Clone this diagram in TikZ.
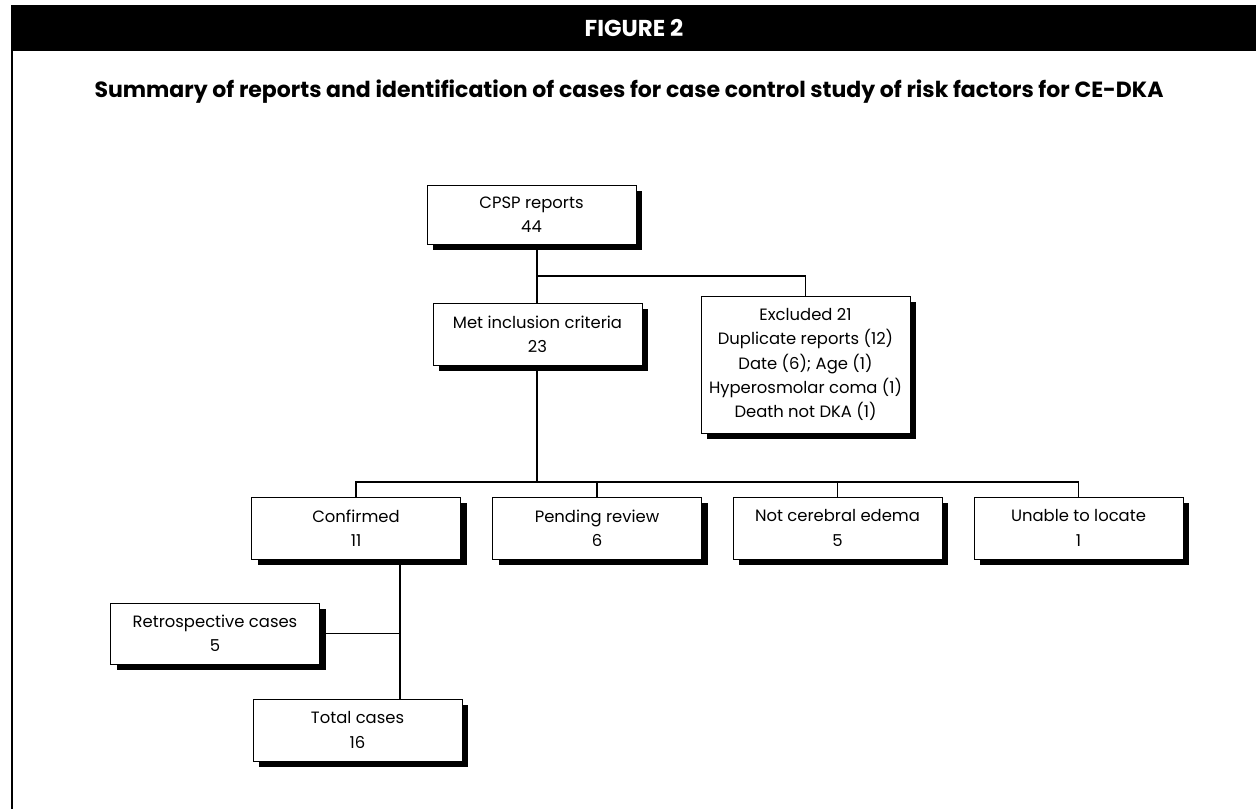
\documentclass[tikz,border=0pt]{standalone}
\usepackage{fontspec}
\setmainfont{Poppins}
\usetikzlibrary{shadows}

\begin{document}
\begin{tikzpicture}[x=0.5pt,y=-0.5pt,
  casebox/.style={draw, line width=0.5pt, fill=white, align=center,
    inner sep=0pt, minimum width=104.5pt, minimum height=31pt,
    font=\fontsize{8.2}{12.1}\selectfont,
    drop shadow={shadow xshift=3pt, shadow yshift=-2.8pt, fill=black, opacity=1}},
  link/.style={line width=0.7pt}]

\useasboundingbox (0,0) rectangle (1256,809);

\fill (11,5) rectangle (1256,51);
\draw[line width=1pt] (12,51) to (12,809);

\node[text=white, font=\bfseries\fontsize{11.5}{13}\selectfont] (figtitle) at (634,28) {FIGURE 2};
\node[font=\bfseries\fontsize{11}{13}\selectfont] (subtitle) at (629,92)
  {Summary of reports and identification of cases for case control study of risk factors for CE-DKA};

\coordinate(cpsppos) at (531.5,214.5);
\coordinate(metpos) at (537.5,334);
\coordinate(exclpos) at (805.5,364.5);

\coordinate(confpos) at (356,528);
\coordinate(pendpos) at (597,528);
\coordinate(notcepos) at (837.5,528);
\coordinate(unablepos) at (1078.5,528);

\coordinate(retropos) at (215,633.5);
\coordinate(totalpos) at (357.5,730);

\coordinate(fork) at (537,276);
\coordinate(bar) at (537,482);
\coordinate(join) at (400,632);

\node[casebox, minimum height=29.5pt] (cpsp) at (cpsppos) {CPSP reports\\44};
\node[casebox] (met) at (metpos) {Met inclusion criteria\\23};
\node[casebox, minimum height=68.5pt] (excl) at (exclpos)
  {Excluded 21\\Duplicate reports (12)\\Date (6); Age (1)\\Hyperosmolar coma (1)\\Death not DKA (1)};

\node[casebox] (conf) at (confpos) {Confirmed\\11};
\node[casebox] (pend) at (pendpos) {Pending review\\6};
\node[casebox] (notce) at (notcepos) {Not cerebral edema\\5};
\node[casebox] (unable) at (unablepos) {Unable to locate\\1};

\node[casebox, minimum height=30.5pt] (retro) at (retropos) {Retrospective cases\\5};
\node[casebox] (total) at (totalpos) {Total cases\\16};

\draw[link] (met.north -| fork) to (cpsp.south -| fork);
\draw[link] (fork) to (fork -| excl.north) to (excl.north);

\draw[link] (met.south -| bar) to (bar);
\draw[link] (conf.north) to (conf.north |- bar) to (unable.north |- bar) to (unable.north);
\draw[link] (pend.north) to (pend.north |- bar);
\draw[link] (notce.north) to (notce.north |- bar);

\draw[link] (conf.south -| join) to (total.north -| join);
\draw[link] (retro.east) to (retro.east -| join);

\end{tikzpicture}
\end{document}
